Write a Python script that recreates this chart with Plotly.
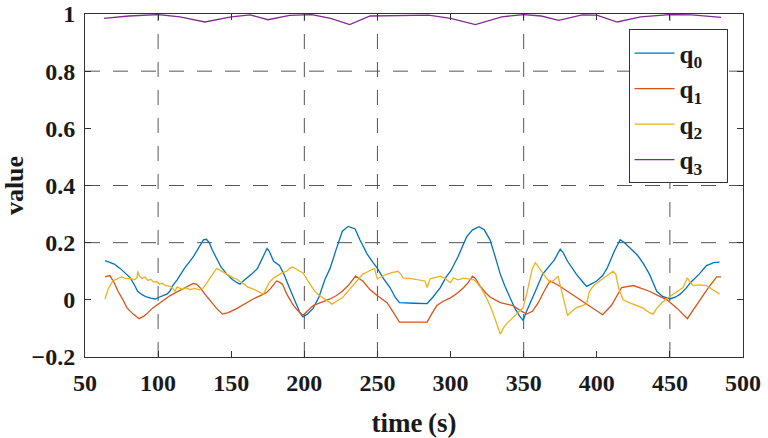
import plotly.graph_objects as go

# ---------------- data ----------------
t_q0 = [63.7, 70, 74, 78, 81, 84, 86, 89, 92, 95, 98, 101, 103, 106, 108, 110, 113, 118, 124, 128, 131, 133, 135, 137,
        140, 143, 147, 151, 154, 156, 158, 161, 165, 168, 171, 174.5, 176, 179, 183, 186, 190, 194, 197, 199, 202, 206,
        210, 214, 217.6, 222, 226, 230, 234.7, 238, 243, 247, 250, 254, 258.6, 262, 265, 275, 284, 288, 293, 297, 300,
        305, 311, 315, 319.5, 323, 327, 330, 334, 337, 340.7, 344, 347, 349.6, 352, 354, 358, 363, 368, 371, 375, 377,
        380, 383, 386, 390, 393, 396, 400, 404, 407, 412, 416, 419, 423, 428, 432, 436, 441, 445, 450, 454, 457, 461,
        464, 470, 475, 480, 484]
q0 = [0.137, 0.125, 0.11, 0.09, 0.077, 0.05, 0.03, 0.018, 0.01, 0.006, 0.003, 0.01, 0.015, 0.02, 0.03, 0.05, 0.07, 0.11,
      0.15, 0.185, 0.21, 0.212, 0.2, 0.175, 0.145, 0.115, 0.09, 0.07, 0.06, 0.055, 0.065, 0.077, 0.095, 0.11, 0.14, 0.18,
      0.17, 0.135, 0.12, 0.09, 0.04, -0.01, -0.045, -0.06, -0.05, -0.03, 0.01, 0.07, 0.11, 0.18, 0.24, 0.257, 0.248,
      0.21, 0.16, 0.13, 0.11, 0.075, 0.043, 0.01, -0.01, -0.012, -0.013, 0.01, 0.043, 0.08, 0.1, 0.15, 0.22, 0.245,
      0.256, 0.245, 0.21, 0.16, 0.09, 0.05, 0.007, -0.03, -0.055, -0.072, -0.04, -0.015, 0.03, 0.09, 0.12, 0.14, 0.177,
      0.165, 0.135, 0.11, 0.09, 0.065, 0.047, 0.055, 0.066, 0.085, 0.11, 0.17, 0.21, 0.2, 0.18, 0.155, 0.126, 0.09,
      0.03, 0.012, 0.003, 0.01, 0.02, 0.04, 0.06, 0.09, 0.12, 0.13, 0.132]

t_q1 = [63.7, 67, 70, 72.6, 76, 78.7, 83, 87, 90, 92, 96, 100, 104, 108, 112, 117, 121, 124, 126, 128.6, 132, 135.5,
        140, 144, 148, 154, 160, 165, 170, 174, 177, 181, 183, 185, 188, 192, 195, 199, 202, 206, 212, 217.6, 222, 226,
        230, 235, 240, 245, 250, 256.6, 261, 265, 275, 284, 287, 290.6, 295, 300, 305, 309, 312, 315, 317, 320, 324,
        327, 334, 338, 342.7, 347, 352, 356, 360, 364, 368, 374, 379.6, 384, 388.6, 396, 404, 410, 417, 425, 430, 436,
        442, 448, 455, 462, 466, 470.6, 476, 482, 485]
q1 = [0.08, 0.085, 0.06, 0.03, 0.0, -0.028, -0.05, -0.066, -0.058, -0.05, -0.03, -0.015, 0.0, 0.014, 0.025, 0.038, 0.05,
      0.057, 0.055, 0.043, 0.02, -0.003, -0.03, -0.05, -0.045, -0.03, -0.012, 0.003, 0.015, 0.025, 0.04, 0.066, 0.062,
      0.055, 0.02, -0.015, -0.035, -0.055, -0.04, -0.02, -0.008, 0.003, 0.015, 0.03, 0.05, 0.083, 0.066, 0.035, 0.014,
      -0.01, -0.045, -0.078, -0.078, -0.078, -0.05, -0.02, -0.005, 0.007, 0.025, 0.043, 0.06, 0.083, 0.075, 0.05,
      0.025, 0.01, -0.01, -0.015, -0.02, -0.035, -0.05, -0.04, -0.01, 0.03, 0.066, 0.05, 0.03, 0.015, 0.0, -0.025,
      -0.052, -0.02, 0.043, 0.05, 0.04, 0.03, 0.015, 0.0, -0.03, -0.066, -0.035, 0.0, 0.04, 0.08, 0.08]

t_q2 = [63.7, 66, 69, 72, 75, 78, 81, 84, 85.6, 86, 87, 89, 91, 93, 95, 97, 99, 101, 103, 105, 108, 110, 111.5, 113,
        116, 119, 122, 125, 128, 131, 134, 137, 140, 142, 144, 147, 151, 154, 157, 159, 161, 164, 166, 168, 170, 172,
        174, 176, 179, 182, 185, 188, 190, 192, 194, 197, 199, 202, 204, 206, 209, 213, 216, 219, 222, 226, 229, 232,
        236, 240, 244, 248, 249, 250, 252, 254, 256.6, 260, 264, 266, 267.5, 272, 277, 282.5, 284, 286, 289, 293, 296,
        300, 302, 305, 309, 313, 316, 318, 321, 324.5, 327, 330, 332, 334, 336, 338, 341, 345, 347, 349.6, 352, 354,
        356, 358, 360, 362.5, 365, 368, 371, 373.5, 376, 378, 380, 383, 386, 390, 393, 395, 398, 402, 406, 411, 413,
        415, 418, 422, 427.5, 432, 436, 438.5, 441, 444.6, 448, 452, 456, 459, 462, 464, 466, 470, 475, 480, 484]
q2 = [0.003, 0.04, 0.066, 0.072, 0.08, 0.074, 0.075, 0.07, 0.078, 0.1, 0.085, 0.075, 0.08, 0.068, 0.072, 0.062, 0.064,
      0.055, 0.058, 0.05, 0.048, 0.04, 0.03, 0.045, 0.038, 0.042, 0.036, 0.04, 0.035, 0.042, 0.066, 0.09, 0.11, 0.105,
      0.1, 0.09, 0.078, 0.072, 0.06, 0.055, 0.045, 0.04, 0.036, 0.03, 0.026, 0.02, 0.04, 0.06, 0.077, 0.085, 0.095,
      0.1, 0.11, 0.115, 0.108, 0.1, 0.095, 0.07, 0.05, 0.038, 0.02, 0.007, -0.005, -0.015, -0.005, 0.007, 0.025,
      0.043, 0.065, 0.09, 0.1, 0.11, 0.09, 0.073, 0.08, 0.085, 0.09, 0.095, 0.1, 0.09, 0.077, 0.075, 0.07, 0.066,
      0.043, 0.073, 0.078, 0.083, 0.075, 0.06, 0.077, 0.07, 0.076, 0.073, 0.07, 0.06, 0.04, 0.007, -0.02, -0.06,
      -0.09, -0.12, -0.1, -0.085, -0.07, -0.05, -0.04, -0.028, 0.02, 0.066, 0.11, 0.13, 0.115, 0.1, 0.08, 0.06, 0.07,
      0.083, 0.03, -0.02, -0.055, -0.04, -0.028, -0.02, -0.015, 0.03, 0.05, 0.066, 0.08, 0.1, 0.09, 0.04, 0.0, -0.01,
      -0.02, -0.03, -0.045, -0.05, -0.03, -0.01, 0.005, 0.02, 0.035, 0.043, 0.077, 0.06, 0.05, 0.052, 0.05, 0.035,
      0.02]

t_q3 = [63, 80, 100, 115, 132, 150, 163, 175, 190, 205, 218, 231, 245, 265, 285, 300, 317, 335, 350, 362, 374, 390,
        400, 414, 430, 450, 465, 485]
q3 = [0.985, 0.993, 0.998, 0.99, 0.972, 0.99, 0.997, 0.98, 0.995, 0.998, 0.985, 0.963, 0.993, 0.995, 0.996, 0.985,
      0.963, 0.99, 0.998, 0.993, 0.978, 0.997, 0.996, 0.972, 0.99, 0.998, 0.997, 0.988]

series_names = ["q<sub>0</sub>", "q<sub>1</sub>", "q<sub>2</sub>", "q<sub>3</sub>"]
x_ticks = [50, 100, 150, 200, 250, 300, 350, 400, 450, 500]
y_ticks = [-0.2, 0, 0.2, 0.4, 0.6, 0.8, 1]
y_tick_text = ["\u22120.2", "0", "0.2", "0.4", "0.6", "0.8", "1"]
x_grid = [100, 200, 250, 350, 450]
y_grid = [0.2, 0.4, 0.8]

colors = ["#0072BD", "#D95319", "#EDB120", "#7E2F8E"]
FONT = "Liberation Serif, Times New Roman, serif"
TXT = "#1a1a1a"

fig = go.Figure()
for i, (tx, vy) in enumerate([(t_q0, q0), (t_q1, q1), (t_q2, q2), (t_q3, q3)]):
    fig.add_trace(go.Scatter(x=tx, y=vy, mode="lines",
                             name="<b>" + series_names[i] + "</b>\u00a0\u00a0\u00a0",
                             legendgroup=str(i),
                             line=dict(color=colors[i], width=1.3)))

shapes = []
for gx in x_grid:
    shapes.append(dict(type="line", xref="x", yref="paper", x0=gx, x1=gx, y0=0, y1=1,
                       line=dict(color="#555555", width=1, dash="15px,13px"), layer="below"))
for gy in y_grid:
    shapes.append(dict(type="line", xref="paper", yref="y", x0=0, x1=1, y0=gy, y1=gy,
                       line=dict(color="#555555", width=1, dash="15px,13px"), layer="below"))

fig.update_layout(
    width=768, height=438,
    margin=dict(l=85, r=25, t=14, b=81),
    paper_bgcolor="white", plot_bgcolor="white",
    font=dict(family=FONT, color=TXT, size=24),
    shapes=shapes,
    showlegend=True,
    legend=dict(x=0.826, y=0.955, xanchor="left", yanchor="top",
                bordercolor="#333333", borderwidth=1, bgcolor="white",
                font=dict(family=FONT, size=25, color=TXT),
                tracegroupgap=0, itemwidth=40),
    xaxis=dict(range=[50, 500], tickvals=x_ticks, ticktext=["<b>%d</b>" % v for v in x_ticks],
               showgrid=False, zeroline=False, showline=True, linecolor="#333333", linewidth=1,
               mirror="ticks", ticks="inside", ticklen=6, tickcolor="#333333",
               ticklabelstandoff=4, automargin=False,
               tickfont=dict(family=FONT, size=24, color=TXT),
               title=dict(text="<b>time\u2009(s)</b>", font=dict(family=FONT, size=27, color=TXT), standoff=18)),
    yaxis=dict(range=[-0.2, 1], tickvals=y_ticks, ticktext=["<b>%s</b>" % s for s in y_tick_text],
               showgrid=False, zeroline=False, showline=True, linecolor="#333333", linewidth=1,
               mirror="ticks", ticks="inside", ticklen=6, tickcolor="#333333",
               ticklabelstandoff=4, automargin=False,
               tickfont=dict(family=FONT, size=24, color=TXT),
               title=dict(text="<b>value</b>", font=dict(family=FONT, size=26, color=TXT), standoff=6)),
)

fig.write_html("out.html")
